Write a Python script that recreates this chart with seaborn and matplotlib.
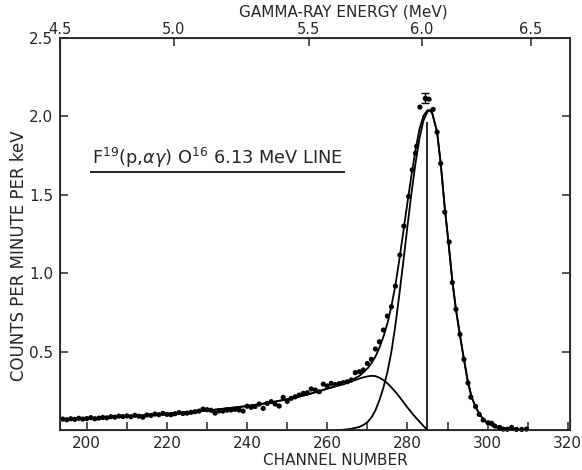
import matplotlib
matplotlib.use("Agg")
import matplotlib.pyplot as plt
import seaborn as sns
import pandas as pd

# measured points (channel, counts per minute per keV)
tail_ch = list(range(194, 262))
tail_cnt = [0.070, 0.066, 0.072, 0.068, 0.075, 0.070, 0.073, 0.079, 0.072, 0.076,
            0.080, 0.078, 0.085, 0.082, 0.089, 0.086, 0.090, 0.085, 0.094, 0.088,
            0.082, 0.096, 0.093, 0.102, 0.098, 0.106, 0.100, 0.098, 0.104, 0.111,
            0.106, 0.108, 0.113, 0.117, 0.121, 0.134, 0.130, 0.126, 0.108, 0.122,
            0.121, 0.127, 0.128, 0.132, 0.128, 0.121, 0.152, 0.145, 0.150, 0.166,
            0.138, 0.170, 0.181, 0.166, 0.153, 0.208, 0.183, 0.202, 0.212, 0.223,
            0.234, 0.238, 0.262, 0.255, 0.244, 0.293, 0.281, 0.298]
peak_ch = [262, 263, 264, 265, 266, 267, 268, 269, 270, 271, 272, 273, 274, 275,
           276, 277, 278.1, 279.1, 280.3, 281.2, 282.0, 282.3, 283.1, 285.4, 286.4,
           287.4, 288.3, 289.3, 290.4, 291.2, 292.1, 293.1, 294.1, 295.1, 295.8,
           297.0, 297.9, 298.9, 300.1, 301.0, 301.8, 303.0, 303.9, 304.9, 306.0,
           307.2, 308.5, 309.7]
peak_cnt = [0.290, 0.296, 0.302, 0.308, 0.319, 0.366, 0.372, 0.383, 0.425, 0.451,
            0.517, 0.563, 0.638, 0.727, 0.786, 0.918, 1.116, 1.301, 1.49, 1.66,
            1.765, 1.81, 2.06, 2.11, 2.045, 1.90, 1.70, 1.39, 1.20, 0.94, 0.77,
            0.61, 0.45, 0.30, 0.21, 0.15, 0.10, 0.064, 0.047, 0.043, 0.026, 0.017,
            0.006, 0.005, 0.017, 0.004, 0.004, 0.006]
err_ch, err_cnt, err_sd = 284.3, 2.12, 0.032

# fitted curves
fit_ch = [193.3, 200, 210, 220, 230, 240, 245, 250, 255, 258, 260, 262, 264, 266,
          268, 270, 271, 272, 273, 274, 275, 276, 277, 278, 279, 280, 281, 282,
          283, 284, 285, 285.6, 286.2, 287.4, 288.3, 289.3, 290.3, 291.2, 292.1,
          293.1, 294.1, 295.1, 296, 297, 298, 299, 300, 301, 302, 303, 304, 305, 306]
fit_cnt = [0.068, 0.074, 0.087, 0.103, 0.124, 0.153, 0.172, 0.196, 0.226, 0.248,
           0.264, 0.280, 0.297, 0.318, 0.345, 0.392, 0.425, 0.468, 0.525, 0.595,
           0.680, 0.790, 0.925, 1.090, 1.270, 1.450, 1.625, 1.785, 1.920, 2.005,
           2.040, 2.040, 2.020, 1.900, 1.700, 1.420, 1.180, 0.950, 0.770, 0.605,
           0.450, 0.305, 0.210, 0.148, 0.100, 0.066, 0.044, 0.030, 0.019, 0.011,
           0.005, 0.002, 0.0]
low_ch = [193.3, 200, 210, 220, 230, 240, 245, 250, 255, 258, 260, 262, 264, 266,
          268, 269, 270, 271, 272, 273, 274, 275, 276, 277, 278, 279, 280, 281,
          282, 283, 284, 285]
low_cnt = [0.068, 0.074, 0.087, 0.103, 0.124, 0.153, 0.172, 0.196, 0.226, 0.248,
           0.264, 0.278, 0.293, 0.310, 0.328, 0.336, 0.342, 0.346, 0.344, 0.334,
           0.318, 0.298, 0.272, 0.243, 0.212, 0.178, 0.144, 0.112, 0.082, 0.054,
           0.026, 0.0]
line_ch = [262.4, 264, 266, 268, 269, 270, 271, 272, 273, 274, 275, 276, 277, 278,
           279, 280, 281, 282, 283, 284, 285, 285.6, 286.2, 287.4, 288.3, 289.3,
           290.3, 291.2, 292.1, 293.1, 294.1, 295.1, 296, 297, 298, 299, 300, 301,
           302, 303, 304, 305, 306]
line_cnt = [0.0, 0.002, 0.008, 0.020, 0.032, 0.050, 0.080, 0.125, 0.190, 0.270,
            0.370, 0.500, 0.670, 0.870, 1.080, 1.300, 1.510, 1.700, 1.860, 1.975,
            2.030, 2.040, 2.020, 1.900, 1.700, 1.420, 1.180, 0.950, 0.770, 0.605,
            0.450, 0.305, 0.210, 0.148, 0.100, 0.066, 0.044, 0.030, 0.019, 0.011,
            0.005, 0.002, 0.0]
centroid_ch, centroid_top = 285.0, 1.965

x_ticks = [200, 220, 240, 260, 280, 300, 320]
y_ticks = [0.5, 1.0, 1.5, 2.0, 2.5]
energy_labels = ["4.5", "5.0", "5.5", "6.0", "6.5"]
energy_ch = [193.3, 221.7, 255.4, 283.6, 310.8]

sns.set_style("ticks")
plt.rcParams["font.family"] = ["DejaVu Sans"]
plt.rcParams["mathtext.fontset"] = "dejavusans"

pts = pd.DataFrame({"ch": tail_ch + peak_ch, "cnt": tail_cnt + peak_cnt})

fig = plt.figure(figsize=(5.82, 4.70), dpi=100)
ax = fig.add_axes([0.103, 0.085, 0.876, 0.834])

sns.lineplot(x=fit_ch, y=fit_cnt, ax=ax, color="black", lw=1.3, estimator=None)
sns.lineplot(x=low_ch, y=low_cnt, ax=ax, color="black", lw=1.3, estimator=None)
sns.lineplot(x=line_ch, y=line_cnt, ax=ax, color="black", lw=1.3, estimator=None)
ax.vlines(centroid_ch, 0, centroid_top, color="black", lw=1.2)
sns.scatterplot(data=pts, x="ch", y="cnt", ax=ax, color="black", s=14,
                edgecolor="none", clip_on=False, zorder=3)
ax.errorbar(err_ch, err_cnt, yerr=err_sd, fmt="o", color="black", ms=3,
            capsize=3, lw=1, zorder=3)

ax.set_xlim(193.3, 320.5)
ax.set_ylim(0, 2.5)
ax.set_xticks(x_ticks)
ax.set_xticks(range(200, 321, 10), minor=True)
ax.set_yticks(y_ticks)
ax.set_yticklabels([f"{v:.1f}" for v in y_ticks])
ax.tick_params(which="both", direction="in", length=6, width=1.1,
               labelsize=11, top=False, right=True, pad=4)
ax.tick_params(axis="y", pad=5)
for s in ax.spines.values():
    s.set_linewidth(1.3)
    s.set_visible(True)

ax.set_xlabel("CHANNEL NUMBER", fontsize=11)
ax.xaxis.set_label_coords(0.541, -0.058)
ax.set_ylabel("COUNTS PER MINUTE PER keV", fontsize=12)
ax.yaxis.set_label_coords(-0.063, 0.446)

top = ax.twiny()
top.set_xlim(ax.get_xlim())
top.set_xticks(energy_ch)
top.set_xticklabels(energy_labels)
top.tick_params(direction="in", length=6, width=1.1, labelsize=10.5, pad=1)
top.set_xlabel("GAMMA-RAY ENERGY (MeV)", fontsize=11)
top.xaxis.set_label_coords(0.555, 1.054)

ax.text(201.2, 1.735, r"F$^{19}$(p,$\alpha\gamma$) O$^{16}$ 6.13 MeV LINE",
        fontsize=12.8, ha="left", va="center")
ax.hlines(1.645, 200.75, 264.4, color="black", lw=1.2)

fig.savefig("out.png", dpi=100)
